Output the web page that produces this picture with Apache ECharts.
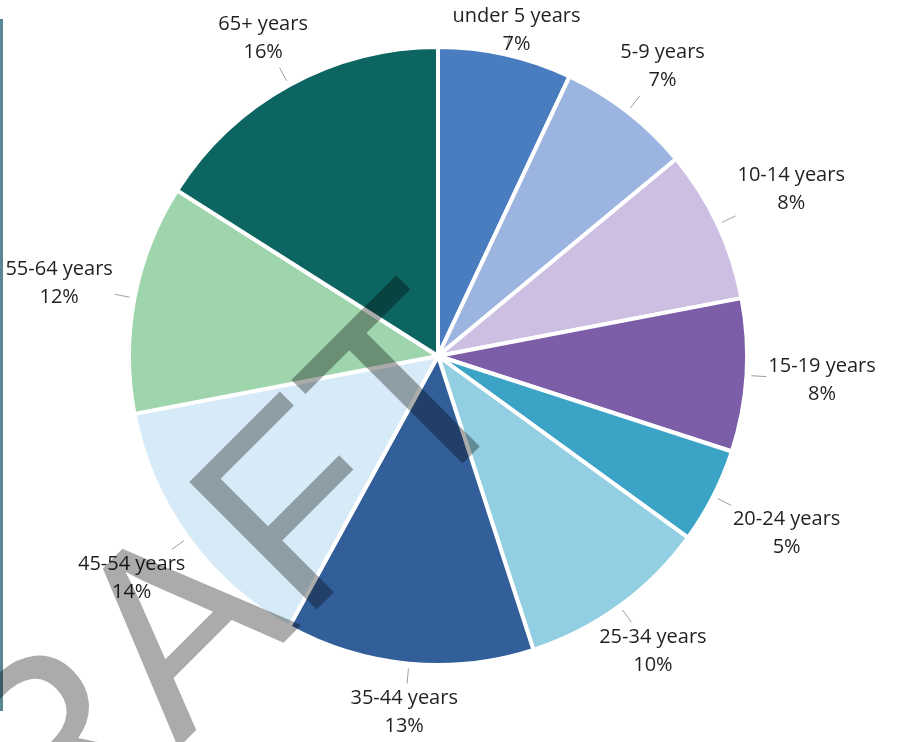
<!DOCTYPE html>
<html>
<head>
<meta charset="utf-8">
<script src="https://cdn.jsdelivr.net/npm/echarts@6/dist/echarts.min.js"></script>
<style>
  html, body { margin: 0; padding: 0; background: #ffffff; }
  #chart { width: 899px; height: 742px; }
</style>
</head>
<body>
<div id="chart"></div>
<script>
// Population share by age group (percent)
const categories = ['under 5 years', '5-9 years', '10-14 years', '15-19 years', '20-24 years',
                    '25-34 years', '35-44 years', '45-54 years', '55-64 years', '65+ years'];
const shares = [7, 7, 8, 8, 5, 10, 13, 14, 12, 16];
const palette = ['#4a7cc0', '#9bb5e0', '#cdbfe2', '#7c5da8', '#3ba3c6',
                 '#93cfe2', '#325f9a', '#d6ebf7', '#9fd5ad', '#0d6561'];

// pie geometry (layout only)
const PIE_CENTER = [438, 356];
const PIE_RADIUS = 309;
const LEADER_GAP = 5;     // space between rim and leader start
const LEADER_LEN = 15;    // leader length
const LABEL_GAP = 2;      // space between leader end and label box

const W = 899, H = 742;
const chart = echarts.init(document.getElementById('chart'), null, { renderer: 'canvas' });

const total = shares.reduce((a, b) => a + b, 0);
// mid angle of each slice, clockwise from 12 o'clock
function midAngle(i) {
  let before = 0;
  for (let k = 0; k < i; k++) before += shares[k];
  return (before + shares[i] / 2) / total * Math.PI * 2;
}

// place each label just outside its leader, centred, pushed out by the box half-extent
function placeLabel(params) {
  const a = midAngle(params.dataIndex);
  const dx = Math.sin(a), dy = -Math.cos(a);
  const cx = PIE_CENTER[0], cy = PIE_CENTER[1];
  const r0 = PIE_RADIUS + LEADER_GAP, r1 = r0 + LEADER_LEN;
  const p0 = [cx + dx * r0, cy + dy * r0];
  const p1 = [cx + dx * r1, cy + dy * r1];
  const hw = params.labelRect.width / 2, hh = params.labelRect.height / 2;
  const ext = Math.min(
    Math.abs(dx) > 1e-6 ? hw / Math.abs(dx) : Infinity,
    Math.abs(dy) > 1e-6 ? hh / Math.abs(dy) : Infinity
  );
  let x = p1[0] + dx * (ext + LABEL_GAP);
  let y = p1[1] + dy * (ext + LABEL_GAP);
  y = Math.max(hh + 2, Math.min(H - hh - 2, y));
  x = Math.max(hw + 2, Math.min(W - hw - 2, x));
  return {
    x: x,
    y: y,
    align: 'center',
    verticalAlign: 'middle',
    labelLinePoints: [p0, p1, p1]
  };
}

const pieData = categories.map((name, i) => ({
  name: name,
  value: shares[i],
  itemStyle: { color: palette[i] }
}));

chart.setOption({
  backgroundColor: '#ffffff',
  animation: false,
  graphic: [
    {
      // side rule
      type: 'line',
      shape: { x1: 1.5, y1: 19, x2: 1.5, y2: 711 },
      style: { stroke: '#5a8794', lineWidth: 3 },
      z: 1
    },
    {
      // watermark
      type: 'text',
      x: 168,
      y: 656,
      rotation: Math.PI / 4,
      z: 100,
      silent: true,
      style: {
        text: 'DRAFT',
        font: '262px "Liberation Sans", Arial, sans-serif',
        fill: 'rgba(0,0,0,0.33)',
        align: 'center',
        verticalAlign: 'middle',
        textAlign: 'center',
        textVerticalAlign: 'middle'
      }
    }
  ],
  series: [{
    type: 'pie',
    center: PIE_CENTER,
    radius: PIE_RADIUS,
    startAngle: 90,
    clockwise: true,
    avoidLabelOverlap: false,
    itemStyle: { borderColor: '#ffffff', borderWidth: 4 },
    label: {
      show: true,
      position: 'outside',
      formatter: '{b}\n{c}%',
      fontFamily: '"Open Sans", sans-serif',
      fontSize: 20,
      lineHeight: 28,
      color: '#231f20'
    },
    labelLine: {
      show: true,
      length: 14,
      length2: 0,
      lineStyle: { color: '#a0a0a0', width: 1 }
    },
    labelLayout: placeLabel,
    data: pieData
  }]
});
</script>
</body>
</html>
